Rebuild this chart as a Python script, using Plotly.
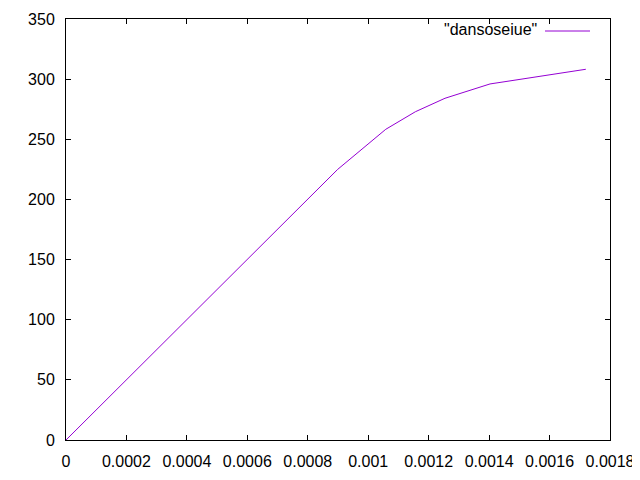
import plotly.graph_objects as go

strain = [0.0, 0.000667, 0.000899, 0.001058, 0.001156, 0.001254, 0.001403, 0.00172]
stress = [0.0, 166.9, 225.0, 258.3, 272.9, 284.1, 296.0, 308.2]
series_name = '"dansoseiue"'
x_ticks = [0, 0.0002, 0.0004, 0.0006, 0.0008, 0.001, 0.0012, 0.0014, 0.0016, 0.0018]
x_tick_text = ["0", "0.0002", "0.0004", "0.0006", "0.0008", "0.001", "0.0012", "0.0014", "0.0016", "0.0018"]
y_ticks = [0, 50, 100, 150, 200, 250, 300, 350]

color = "#9400D3"
family = "Liberation Sans, Arial, sans-serif"
font = dict(family=family, size=16, color="black")
tick_font = dict(family=family, size=16, color="black")

fig = go.Figure()
fig.add_trace(go.Scatter(x=strain, y=stress, mode="lines", name=series_name,
                         line=dict(color=color, width=1), showlegend=False))

axis_common = dict(showgrid=False, zeroline=False, showline=True, linecolor="black", linewidth=1,
                   mirror="ticks", ticks="inside", ticklen=5, tickcolor="black", tickwidth=1,
                   tickfont=tick_font, automargin=False, ticklabeloverflow="allow")
fig.update_xaxes(range=[0, 0.0018], tickvals=x_ticks, ticktext=x_tick_text,
                 ticklabelstandoff=7, **axis_common)
fig.update_yaxes(range=[0, 350], tickvals=y_ticks, ticklabelstandoff=7, **axis_common)

fig.add_annotation(xref="paper", yref="paper", x=(539 - 66) / 544, y=1 - (30 - 19) / 421,
                   xanchor="right", yanchor="middle", text=series_name, showarrow=False, font=font)
fig.add_shape(type="line", xref="paper", yref="paper",
              x0=(545 - 66) / 544, x1=(590 - 66) / 544,
              y0=1 - (31 - 19) / 421, y1=1 - (31 - 19) / 421,
              line=dict(color=color, width=1))

fig.update_layout(width=632, height=464, margin=dict(l=58, r=30, t=11, b=32),
                  plot_bgcolor="white", paper_bgcolor="white", font=font)
fig.write_html("out.html")
